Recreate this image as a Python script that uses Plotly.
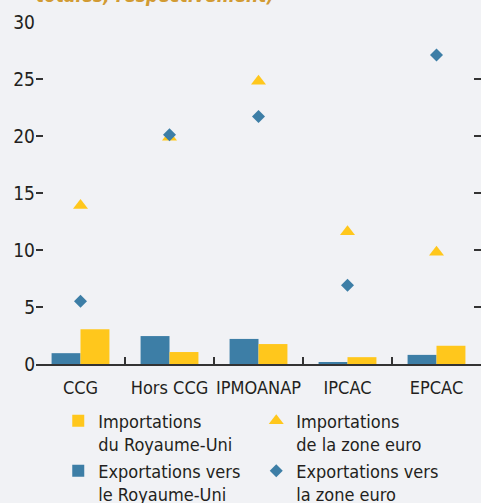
import plotly.graph_objects as go

categories = ["CCG", "Hors CCG", "IPMOANAP", "IPCAC", "EPCAC"]
exp_uk = [0.95, 2.45, 2.2, 0.15, 0.8]
imp_uk = [3.05, 1.05, 1.75, 0.6, 1.6]
imp_ez = [13.9, 19.9, 24.8, 11.6, 9.8]
exp_ez = [5.5, 20.1, 21.7, 6.9, 27.1]
y_ticks = [0, 5, 10, 15, 20, 25, 30]

BLUE = "#3D7EA6"
YELLOW = "#FFC71C"
BG = "#F1F2F5"
TXT = "#231F20"
FONT = "DejaVu Sans Condensed, Liberation Sans Narrow, Roboto, sans-serif"

fig = go.Figure()
fig.add_trace(go.Bar(x=categories, y=exp_uk, name="Exportations vers<br>le Royaume-Uni",
                     marker=dict(color=BLUE, line=dict(width=0)), legendrank=3))
fig.add_trace(go.Bar(x=categories, y=imp_uk, name="Importations<br>du Royaume-Uni",
                     marker=dict(color=YELLOW, line=dict(width=0)), legendrank=1))
fig.add_trace(go.Scatter(x=categories, y=imp_ez, mode="markers", name="Importations<br>de la zone euro",
                         marker=dict(symbol="triangle-up", size=13, color=YELLOW), legendrank=2))
fig.add_trace(go.Scatter(x=categories, y=exp_ez, mode="markers", name="Exportations vers<br>la zone euro",
                         marker=dict(symbol="diamond", size=10, color=BLUE), legendrank=4))

fig.update_layout(
    width=481, height=503,
    paper_bgcolor=BG, plot_bgcolor=BG,
    margin=dict(l=36, r=0, t=22, b=139, autoexpand=False),
    barmode="group", bargap=0.35, bargroupgap=0,
    font=dict(family=FONT, size=18, color=TXT),
    showlegend=True,
    legend=dict(orientation="h", x=0.05, xanchor="left", y=-0.113, yanchor="top",
                entrywidth=153, entrywidthmode="pixels", valign="top",
                font=dict(family=FONT, size=18, color=TXT), bgcolor="rgba(0,0,0,0)",
                itemwidth=30),
)
fig.update_xaxes(
    type="category", range=[-0.5, 4.5], tickangle=0,
    showline=True, linecolor="#333333", linewidth=2,
    ticks="inside", tickson="boundaries", ticklen=7, tickcolor="#333333", tickwidth=1.5,
    showgrid=False, zeroline=False, tickfont=dict(size=18, family=FONT, color=TXT),
    ticklabelstandoff=6,
)
fig.update_yaxes(
    range=[0, 30], tickvals=y_ticks,
    ticks="inside", ticklen=7, tickcolor="#333333", tickwidth=1.5,
    mirror="ticks", showline=False, showgrid=False, zeroline=False,
    tickfont=dict(size=19, family=FONT, color=TXT),
)
fig.add_annotation(text="<i><b>totales, respectivement)</b></i>", xref="paper", yref="paper",
                   x=0, xshift=-2, xanchor="left", y=1, yanchor="bottom", yshift=14,
                   showarrow=False, font=dict(size=19, color="#D29B33", family=FONT))

fig.write_html(
    "out.html",
    config={"displayModeBar": False},
    post_script="document.body.style.margin='0';document.body.style.background='#F1F2F5';",
)
